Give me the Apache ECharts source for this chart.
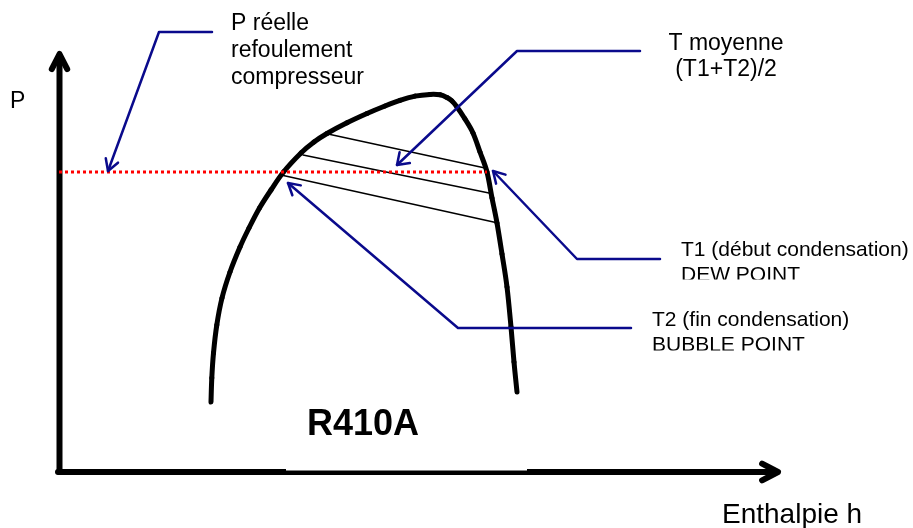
<!DOCTYPE html>
<html><head><meta charset="utf-8">
<script src="https://cdn.jsdelivr.net/npm/echarts@6/dist/echarts.min.js"></script>
<style>html,body{margin:0;padding:0;background:#fff}#c{width:913px;height:528px}</style>
</head><body><div id="c"></div>
<script>
// Diagram data (drawing space: h to the right, P downwards in screen units)
const domeCurve = [[211,402],[211.8,378],[213.5,353],[216.8,325],[222,298],[230,272],[240,247],[249,228],[259.5,208],[271,190],[283.5,172],[301,153],[314,142],[327,133.5],[347,122.8],[367,113.5],[385,106],[400,100.4],[415,96.1],[430,94.4],[440,94.8],[447,97.5],[452,101],[457,107],[465,119],[473,133],[480,152],[487,172],[492,198],[497,223],[502,254],[507,287],[511,327],[514,362],[517,392]];
const tieLine1 = [[328,134],[485,168]];
const tieLine2 = [[303,155],[489,193]];
const tieLine3 = [[281,175],[498,223]];
const pressureLine = [[59,172],[487,172]];
const axisH = [[58,472],[776,472]];
const axisP = [[59.5,472],[59.5,57]];
const arrowTipH = [778,472];
const arrowTipP = [59.5,54];
const leaderP = [[212,32],[159,32],[108,171]];
const leaderTm = [[640,51],[517,51],[397,165]];
const leaderT1 = [[660,259],[577,259],[493,171]];
const leaderT2 = [[631,328],[458,328],[288,183]];
const labelP = ['P réelle','refoulement','compresseur'];
const labelTm = ['T moyenne','(T1+T2)/2'];
const labelT1 = ['T1 (début condensation)','DEW POINT'];
const labelT2 = ['T2 (fin condensation)','BUBBLE POINT'];

function head(pts, len, ang){
  const tip = pts[pts.length-1], from = pts[pts.length-2];
  const a = Math.atan2(from[1]-tip[1], from[0]-tip[0]);
  const r = ang*Math.PI/180;
  return [[tip[0]+len*Math.cos(a+r), tip[1]+len*Math.sin(a+r)], tip, [tip[0]+len*Math.cos(a-r), tip[1]+len*Math.sin(a-r)]];
}
const BLUE = '#0a0a8c';
function ln(data, color, width, extra){
  return Object.assign({type:'line', data:data, symbol:'none', silent:true, clip:false, animation:false,
    lineStyle:{color:color, width:width, cap:'round', join:'round'}}, extra||{});
}
const FF = '"Liberation Sans", Arial, sans-serif';
function txt(text, x, baseline, size, opts){
  opts = opts||{};
  const y = baseline - 0.3465*size;
  return {type:'text', z:120, silent:true, style:{text:text, x:x, y:y,
    font:(opts.bold?'bold ':'')+size+'px '+FF, fill:'#000',
    align:opts.align||'left', textAlign:opts.align||'left', verticalAlign:'middle', textVerticalAlign:'middle'}};
}
const domeSeries = {
  type:'custom', coordinateSystem:'cartesian2d', data:domeCurve, silent:true, z:3, clip:false, animation:false,
  renderItem:function(params, api){
    if (params.dataIndex !== 0) return null;
    const P = domeCurve.map(function(p){ return api.coord(p); });
    const children = [];
    for (let i = 0; i < P.length-1; i++){
      const p0 = P[Math.max(i-1,0)], p1 = P[i], p2 = P[i+1], p3 = P[Math.min(i+2,P.length-1)];
      children.push({type:'bezierCurve', shape:{x1:p1[0], y1:p1[1], x2:p2[0], y2:p2[1],
        cpx1:p1[0]+(p2[0]-p0[0])/6, cpy1:p1[1]+(p2[1]-p0[1])/6,
        cpx2:p2[0]-(p3[0]-p1[0])/6, cpy2:p2[1]-(p3[1]-p1[1])/6},
        style:{stroke:'#000', lineWidth:5, fill:'none', lineCap:'round'}});
    }
    return {type:'group', children:children};
  }
};
const series = [
  ln(tieLine1, '#000', 1.5, {z:2}),
  ln(tieLine2, '#000', 1.5, {z:2}),
  ln(tieLine3, '#000', 1.5, {z:2}),
  domeSeries,
  ln(axisH, '#000', 6, {z:3}),
  ln(head([axisH[0],arrowTipH], 18, 28), '#000', 6, {z:3}),
  ln(axisP, '#000', 6, {z:3}),
  ln(head([axisP[0],arrowTipP], 17, 27), '#000', 6, {z:3}),
  ln(pressureLine, '#ff0000', 3, {z:4, lineStyle:{color:'#ff0000', width:3, type:[3,3], cap:'butt'}}),
  ln(leaderP, BLUE, 2.5, {z:5}), ln(head(leaderP, 13, 30), BLUE, 2.5, {z:5}),
  ln(leaderTm, BLUE, 2.5, {z:5}), ln(head(leaderTm, 13, 35), BLUE, 2.5, {z:5}),
  ln(leaderT1, BLUE, 2.5, {z:5}), ln(head(leaderT1, 13, 30), BLUE, 2.5, {z:5}),
  ln(leaderT2, BLUE, 2.5, {z:5}), ln(head(leaderT2, 13, 30), BLUE, 2.5, {z:5})
];
const graphics = [
  {type:'rect', z:110, silent:true, shape:{x:286, y:440, width:241, height:30.5}, style:{fill:'#fff'}},
  txt('P', 10, 110, 23),
  txt(labelP[0], 231, 32, 23), txt(labelP[1], 231, 59, 23), txt(labelP[2], 231, 86, 23),
  txt(labelTm[0], 726, 52, 23, {align:'center'}), txt(labelTm[1], 726, 78, 23, {align:'center'}),
  txt(labelT1[0], 681, 257, 21), txt(labelT1[1], 681, 282, 21),
  txt(labelT2[0], 652, 327, 21), txt(labelT2[1], 652, 352, 21),
  {type:'rect', z:130, silent:true, shape:{x:670, y:279.5, width:243, height:12}, style:{fill:'#fff'}},
  {type:'rect', z:130, silent:true, shape:{x:640, y:350.5, width:273, height:12}, style:{fill:'#fff'}},
  txt('R410A', 307, 438, 36, {bold:true}),
  txt('Enthalpie h', 722, 525, 28)
];
const chart = echarts.init(document.getElementById('c'), null, {renderer:'canvas'});
chart.setOption({
  animation:false,
  backgroundColor:'#fff',
  grid:{left:0, right:0, top:0, bottom:0},
  xAxis:{type:'value', min:0, max:913, show:false},
  yAxis:{type:'value', min:0, max:528, inverse:true, show:false},
  series:series,
  graphic:graphics
});
</script></body></html>
